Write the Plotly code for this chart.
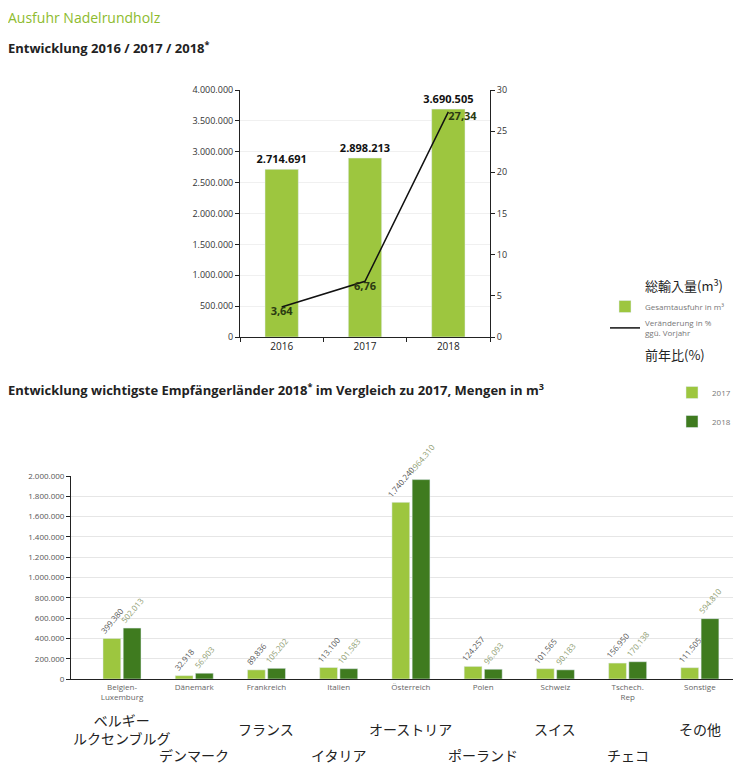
import plotly.graph_objects as go

# top chart data
years = ["2016", "2017", "2018"]
total_export = [2714691, 2898213, 3690505]
change_pct = [3.64, 6.76, 27.34]

# bottom chart data
countries = ["Belgien-<br>Luxemburg", "Dänemark", "Frankreich", "Italien", "Österreich",
             "Polen", "Schweiz", "Tschech.<br>Rep", "Sonstige"]
countries_ja = ["ベルギー<br>ルクセンブルグ", "デンマーク", "フランス", "イタリア", "オーストリア",
                "ポーランド", "スイス", "チェコ", "その他"]
vals_2017 = [399380, 32918, 89836, 113100, 1740240, 124257, 101565, 156950, 111505]
vals_2018 = [502013, 56903, 105202, 101583, 1964310, 96093, 90183, 170138, 594810]

W, H = 741, 765
OFF = 8  # page body margin
FONT = "Open Sans, Noto Sans, sans-serif"
JA = "Noto Sans CJK JP"
LIGHT = "#9dc63f"
DARK = "#3f7b1f"


def px(x):
    return (x - OFF) / W


def py(y):
    return 1 - (y - OFF) / H


fig = go.Figure()

fig.add_trace(go.Bar(
    x=years, y=total_export, width=0.4, marker_color=LIGHT,
    name="Gesamtausfuhr in m³", texttemplate="<b>%{y:,d}</b>",
    textposition="outside", cliponaxis=False, constraintext="none",
    textfont=dict(size=11, color="#111"), legend="legend",
    xaxis="x", yaxis="y",
))

fig.add_trace(go.Scatter(
    x=years, y=change_pct, mode="lines+text", line=dict(color="#111", width=1.5),
    name="Veränderung in %<br>ggü. Vorjahr", texttemplate="<b>%{y:.2f}</b>",
    textposition=["bottom center", "bottom center", "bottom right"],
    textfont=dict(size=11, color="#2b3a12"), cliponaxis=False, legend="legend",
    xaxis="x", yaxis="y2",
))

fig.add_trace(go.Bar(
    x=countries, y=vals_2017, name="2017", marker_color=LIGHT,
    texttemplate="%{y:,d}", textposition="outside", textangle=-50,
    cliponaxis=False, constraintext="none",
    textfont=dict(size=8, color="#555"), legend="legend2", legendgroup="a",
    xaxis="x2", yaxis="y3",
))
fig.add_trace(go.Bar(
    x=countries, y=vals_2018, name="2018", marker_color=DARK,
    texttemplate="%{y:,d}", textposition="outside", textangle=-50,
    cliponaxis=False, constraintext="none",
    textfont=dict(size=8, color="#8e9c70"), legend="legend2", legendgroup="b",
    xaxis="x2", yaxis="y3",
))

axis_common = dict(showline=True, linecolor="#222", linewidth=1, ticks="outside",
                   ticklen=4, tickcolor="#222", zeroline=False,
                   tickfont=dict(family=FONT, size=9, color="#333"))

fig.update_layout(
    width=W, height=H, margin=dict(l=0, r=0, t=0, b=0, autoexpand=False),
    paper_bgcolor="white", plot_bgcolor="white",
    font=dict(family=FONT, color="#333"),
    separators=",.", barmode="group", bargap=0.44, bargroupgap=0.12,
    xaxis=dict(domain=[px(240), px(490)], anchor="y", tickson="boundaries",
               **{**axis_common, "tickfont": dict(family=FONT, size=10, color="#222")}),
    yaxis=dict(domain=[py(337), py(90)], anchor="x", range=[0, 4000000], dtick=500000,
               tickformat=",d", showgrid=True, gridcolor="#f0f0f0", **axis_common),
    yaxis2=dict(overlaying="y", side="right", anchor="x", range=[0, 30], dtick=5,
                showgrid=False, **axis_common),
    xaxis2=dict(domain=[px(71), px(736)], anchor="y3",
                **{**axis_common, "ticks": "", "tickfont": dict(family=FONT, size=8, color="#666")}),
    yaxis3=dict(domain=[py(679), py(476)], anchor="x2", range=[0, 2000000], dtick=200000,
                tickformat=",d", showgrid=True, gridcolor="#e6e6e6",
                **{**axis_common, "tickfont": dict(family=FONT, size=8, color="#555")}),
    legend=dict(x=px(605), y=py(292), xanchor="left", yanchor="top",
                font=dict(family=FONT, size=8, color="#777"), bgcolor="rgba(0,0,0,0)",
                itemwidth=30, tracegroupgap=4),
    legend2=dict(x=px(672), y=py(378), xanchor="left", yanchor="top",
                 font=dict(family=FONT, size=8, color="#777"), bgcolor="rgba(0,0,0,0)",
                 itemwidth=30, tracegroupgap=10),
    showlegend=True,
)

annotations = [
    dict(text="Ausfuhr Nadelrundholz", x=px(6), y=py(18), font=dict(size=14, color="#8dbb2e")),
    dict(text="<b>Entwicklung 2016 / 2017 / 2018<sup>*</sup></b>", x=px(6), y=py(47),
         font=dict(size=13, color="#222")),
    dict(text="<b>Entwicklung wichtigste Empfängerländer 2018<sup>*</sup> im Vergleich zu 2017, "
              "Mengen in m<sup>3</sup></b>", x=px(6), y=py(389), font=dict(size=13, color="#222")),
    dict(text="総輸入量(m<sup>3</sup>)", x=px(643), y=py(285), font=dict(family=JA, size=13, color="#222")),
    dict(text="前年比(%)", x=px(643), y=py(355), font=dict(family=JA, size=13, color="#222")),
]
for a in annotations:
    a.update(xref="paper", yref="paper", xanchor="left", yanchor="middle", showarrow=False)
    fig.add_annotation(**a)

for i, (c, ja) in enumerate(zip(countries, countries_ja)):
    fig.add_annotation(x=c, xref="x2", y=py(729 if i % 2 == 0 else 755), yref="paper",
                       text=ja, showarrow=False, xanchor="center", yanchor="middle",
                       font=dict(family=JA, size=14, color="#222"))

fig.write_html("out.html")
